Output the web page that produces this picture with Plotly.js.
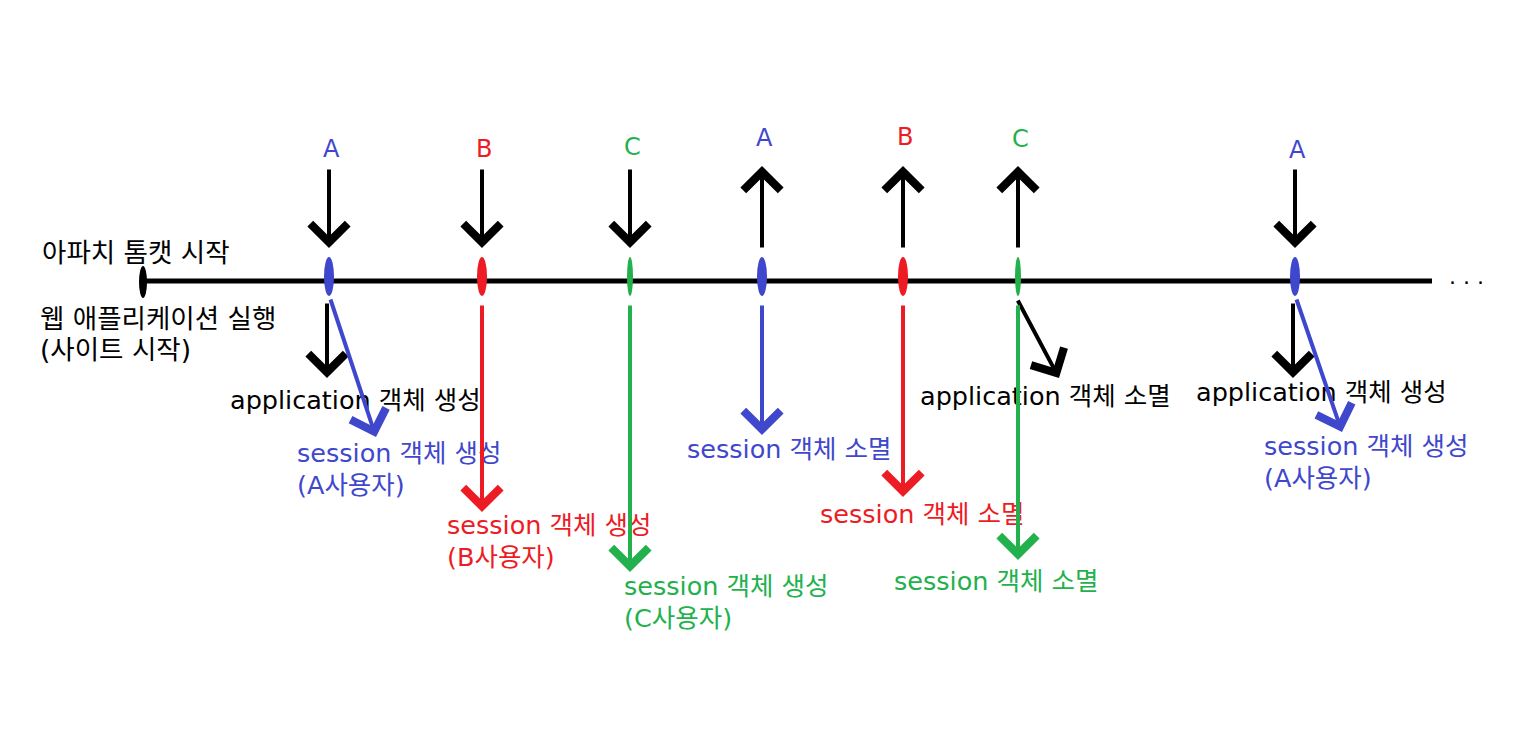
<!DOCTYPE html>
<html>
<head>
<meta charset="utf-8">
<script src="https://cdn.plot.ly/plotly-3.0.1.min.js"></script>
<style>
  html, body { margin: 0; padding: 0; background: white; }
  #chart { width: 1523px; height: 739px; }
</style>
</head>
<body>
<div id="chart"></div>
<script>
// 타임라인 데이터
const startTime = 143;
const endTime = 1432;
const startLabel = '아파치 톰캣 시작';
const webappLabel = ['웹 애플리케이션 실행', '(사이트 시작)'];

const eventTime = [329, 482, 630, 762, 903, 1018, 1295];
const eventUser = ['A', 'B', 'C', 'A', 'B', 'C', 'A'];
const sessionAction = ['생성', '생성', '생성', '소멸', '소멸', '소멸', '생성'];
const appAction = ['생성', '', '', '', '', '소멸', '생성'];

const userColor = { A: '#3f48cc', B: '#ed1c24', C: '#22b14c' };

// 화면 배치 (손그림 위치 맞추기)
const lineY = 281;
const letterY = [149, 149, 147, 138, 137, 139, 150];
const sessionEnd = [437, 512, 572, 435, 497, 560, 432];
const sessionTextX = [-34, -37, -8, -77, -85, -126, -33];
const sessionTextY = [453, 525, 586, 449, 514, 581, 446];
const appTextY = [400, 0, 0, 0, 0, 396, 392];

const FONT = 'DejaVu Sans, "Noto Sans CJK KR", sans-serif';
const FS = 25.5;

const annotations = [];
const shapes = [];

function arrow(x0, y0, x1, y1, color) {
  annotations.push({
    x: x1, y: y1, ax: x0, ay: y0,
    xref: 'x', yref: 'y', axref: 'x', ayref: 'y',
    text: '', showarrow: true,
    arrowhead: 4, arrowsize: 1.8, arrowwidth: 4, arrowcolor: color
  });
}

function label(x, y, text, color, anchor, size) {
  annotations.push({
    x: x, y: y, xref: 'x', yref: 'y', text: text, showarrow: false,
    xanchor: anchor || 'left', yanchor: 'middle',
    font: { family: FONT, size: size || FS, color: color }
  });
}

// 시작 라벨
label(40, 252, startLabel, 'black', 'left', 26.5);
label(38, 318, webappLabel[0], 'black', 'left', 26.5);
label(38, 349, webappLabel[1], 'black', 'left', 26.5);

shapes.push({
  type: 'circle', xref: 'x', yref: 'y',
  x0: startTime - 4, x1: startTime + 4, y0: lineY - 15, y1: lineY + 17,
  fillcolor: 'black', line: { width: 0 }
});

eventTime.forEach(function (t, i) {
  const u = eventUser[i];
  const c = userColor[u];
  const created = sessionAction[i] === '생성';

  // 사용자 라벨과 요청/응답 화살표
  label(t + 2, letterY[i], u, c, 'center', 24);
  if (created) {
    arrow(t, 168, t, 248, 'black');
  } else {
    arrow(t, 249, t, 166, 'black');
  }

  // 타임라인 위 표시
  const w = u === 'C' ? 3 : 5;
  shapes.push({
    type: 'circle', xref: 'x', yref: 'y', layer: 'above',
    x0: t - w, x1: t + w, y0: lineY - 24, y1: lineY + 15,
    fillcolor: c, line: { width: 0 }
  });

  // application 객체
  if (appAction[i] === '생성') {
    arrow(t - 2, 302, t - 2, 378, 'black');
    label(t - 101, appTextY[i], 'application 객체 생성', 'black');
  } else if (appAction[i] === '소멸') {
    arrow(t - 1, 299, t + 41, 378, 'black');
    label(t - 100, appTextY[i], 'application 객체 소멸', 'black');
  }

  // session 객체
  if (created && appAction[i] === '생성') {
    arrow(t + 1, 298, t + 47, sessionEnd[i], c);
  } else {
    arrow(t, 304, t, sessionEnd[i], c);
  }
  label(t + sessionTextX[i], sessionTextY[i], 'session 객체 ' + sessionAction[i], c);
  if (created) {
    label(t + sessionTextX[i], sessionTextY[i] + 32, '(' + u + '사용자)', c);
  }
});

// 계속 ...
label(1466, 276, '. . .', 'black', 'center', 22);

const data = [{
  type: 'scatter', mode: 'lines',
  x: [startTime, endTime], y: [lineY, lineY],
  line: { color: 'black', width: 5 },
  hoverinfo: 'skip'
}];

const layout = {
  width: 1523, height: 739,
  margin: { t: 0, l: 0, r: 0, b: 0 },
  paper_bgcolor: 'white', plot_bgcolor: 'white',
  showlegend: false,
  xaxis: { range: [0, 1523], visible: false, fixedrange: true },
  yaxis: { range: [739, 0], visible: false, fixedrange: true },
  annotations: annotations,
  shapes: shapes
};

Plotly.newPlot('chart', data, layout, { staticPlot: true });
</script>
</body>
</html>
